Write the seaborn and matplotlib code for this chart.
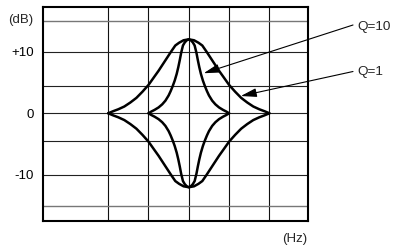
import matplotlib
matplotlib.use("Agg")
import matplotlib.pyplot as plt
import seaborn as sns
import pandas as pd
import numpy as np

# ---- data (x in grid units, peak at 0; gain in dB) ----
q1_x = [-2.0, -1.88, -1.75, -1.6, -1.45, -1.3, -1.15, -1.0, -0.87, -0.75, -0.64, -0.54,
        -0.44, -0.335, -0.24, -0.13, 0.0, 0.13, 0.24, 0.335, 0.44, 0.54, 0.64, 0.75,
        0.87, 1.0, 1.15, 1.3, 1.45, 1.6, 1.75, 1.88, 2.0]
q1_db = [0.0, 0.33, 0.65, 1.1, 1.75, 2.5, 3.5, 4.6, 5.8, 6.9, 8.0, 9.0,
         10.0, 11.0, 11.45, 11.85, 12.0, 11.85, 11.45, 11.0, 10.0, 9.0, 8.0, 6.9,
         5.8, 4.6, 3.5, 2.5, 1.75, 1.1, 0.65, 0.33, 0.0]

q10_x = [-1.0, -0.93, -0.85, -0.75, -0.66, -0.58, -0.5, -0.45, -0.4, -0.35, -0.3, -0.26,
         -0.225, -0.19, -0.145, -0.1, -0.05, 0.0, 0.05, 0.1, 0.145, 0.19, 0.225, 0.26,
         0.3, 0.35, 0.4, 0.45, 0.5, 0.58, 0.66, 0.75, 0.85, 0.93, 1.0]
q10_db = [0.0, 0.28, 0.55, 0.95, 1.45, 2.05, 2.9, 3.6, 4.4, 5.3, 6.4, 7.5,
          8.6, 9.8, 11.0, 11.5, 11.85, 12.0, 11.85, 11.5, 11.0, 9.8, 8.6, 7.5,
          6.4, 5.3, 4.4, 3.6, 2.9, 2.05, 1.45, 0.95, 0.55, 0.28, 0.0]

ytick_vals = [10, 0, -10]
ytick_labels = ["+10", "0", "-10"]
vgrid = [-2, -1, 0, 1, 2]
hgrid_dark = [10, 4.5, 0, -4.5, -10]
hgrid_light = [15, -15]
labels = ["Q=10", "Q=1"]

frames = []
for name, xs, ys in [("q1", q1_x, q1_db), ("q10", q10_x, q10_db)]:
    frames.append(pd.DataFrame({"x": xs, "dB": ys, "curve": name + "_boost"}))
    frames.append(pd.DataFrame({"x": xs, "dB": [-v for v in ys], "curve": name + "_cut"}))
df = pd.concat(frames, ignore_index=True)

sns.set_theme(style="white")
plt.rcParams["font.family"] = ["Liberation Sans", "DejaVu Sans"]

fig = plt.figure(figsize=(3.93, 2.45), dpi=100)
ax = fig.add_axes([43.3 / 393, 1 - 220.5 / 245, (307.7 - 43.3) / 393, (220.5 - 7.3) / 245])

for v in vgrid:
    ax.axvline(v, color="#111111", lw=0.8, zorder=1)
for h in hgrid_dark:
    ax.axhline(h, color="#222222", lw=0.8, zorder=1)
for h in hgrid_light:
    ax.axhline(h, color="#777777", lw=1.0, zorder=1)

sns.lineplot(data=df, x="x", y="dB", units="curve", estimator=None, sort=False,
             color="black", lw=1.8, ax=ax, zorder=3)
for line in ax.lines:
    line.set_solid_joinstyle("round")
    line.set_solid_capstyle("round")

ax.set_xlim(-3.61, 2.95)
ax.set_ylim(-17.4, 17.2)
ax.set_xticks([])
ax.set_yticks(ytick_vals)
ax.set_yticklabels(ytick_labels)
ax.tick_params(axis="y", length=0, pad=7, labelsize=9.5, colors="black")
ax.set_xlabel("")
ax.set_ylabel("")
for s in ax.spines.values():
    s.set_color("black")
    s.set_linewidth(1.5)
    s.set_visible(True)

# annotations
arrow = dict(arrowstyle="-|>,head_length=0.8,head_width=0.22", color="black",
             lw=0.8, shrinkA=0, shrinkB=0, mutation_scale=12)
ax.annotate("", xy=(0.37, 6.5), xycoords="data", xytext=(353, 245 - 25),
            textcoords="figure pixels", arrowprops=arrow)
ax.annotate("", xy=(1.29, 2.8), xycoords="data", xytext=(353, 245 - 71.5),
            textcoords="figure pixels", arrowprops=arrow)
fig.text(357.5 / 393, 1 - 26.7 / 245, labels[0], ha="left", va="center", fontsize=9.7)
fig.text(357.5 / 393, 1 - 71.5 / 245, labels[1], ha="left", va="center", fontsize=9.7)
fig.text(33.5 / 393, 1 - 19.5 / 245, "(dB)", ha="right", va="center", fontsize=9.5)
fig.text(307.5 / 393, 1 - 239 / 245, "(Hz)", ha="right", va="center", fontsize=9.5)

fig.savefig("out.png", dpi=100)
